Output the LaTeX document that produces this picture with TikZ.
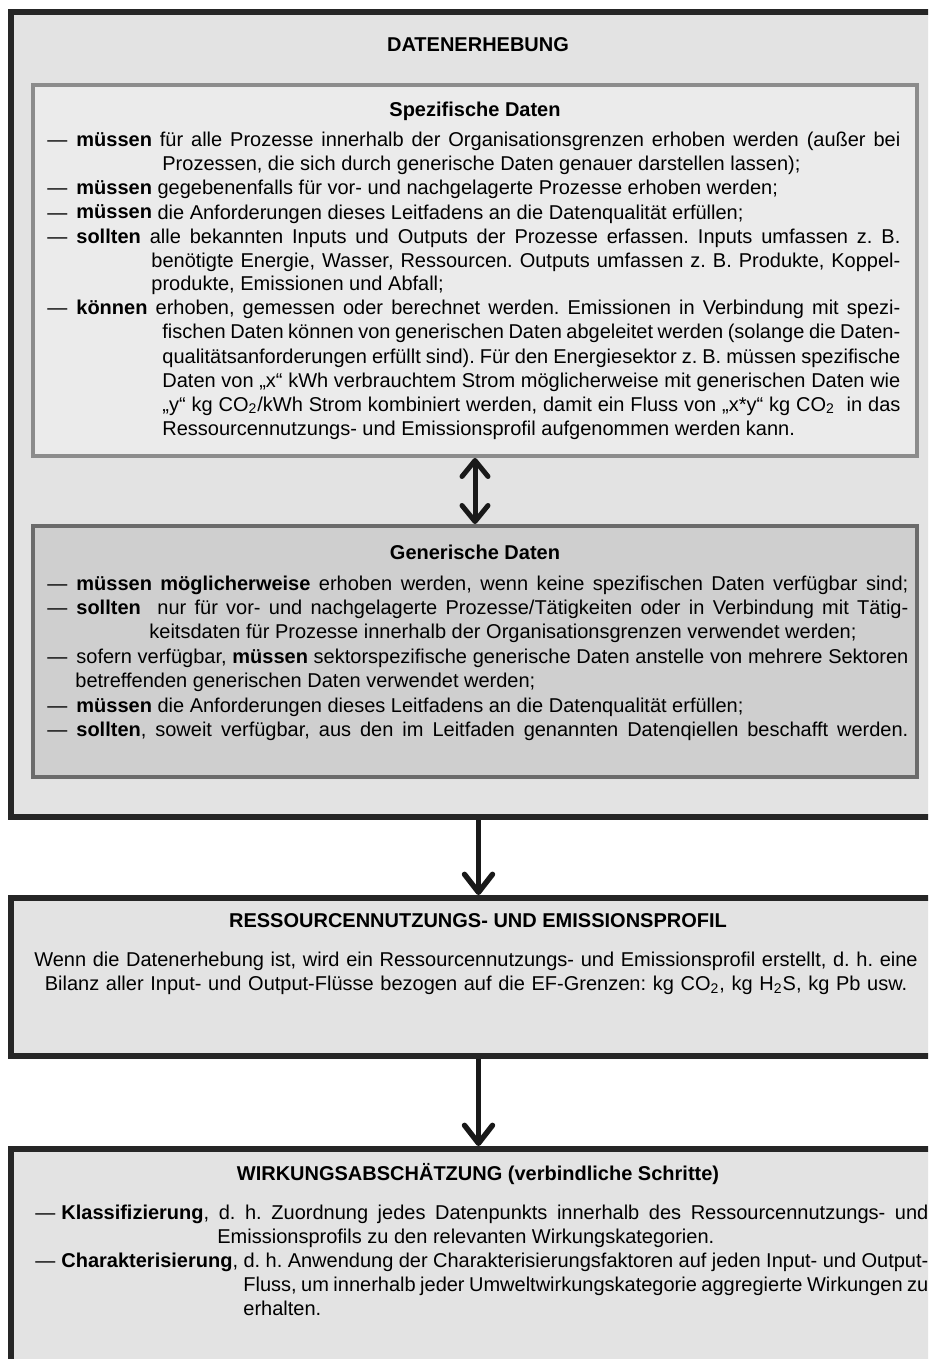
\documentclass[tikz,border=0pt]{standalone}
\usepackage{fontspec}
\setmainfont{Liberation Sans}
\usetikzlibrary{arrows.meta,fit,positioning}

\definecolor{rahmendunkel}{gray}{0.15}
\definecolor{fuellhell}{gray}{0.89}
\definecolor{spezfuell}{gray}{0.92}
\definecolor{spezrand}{gray}{0.55}
\definecolor{genfuell}{gray}{0.81}
\definecolor{genrand}{gray}{0.42}

\hyphenpenalty=10000
\tolerance=9999
\frenchspacing

% Spiegelstrich mit haengendem Einzug
\newcommand{\strich}[3][14.5pt]{\hangindent=#2\hangafter=1\noindent\makebox[#1][l]{—}#3\par}

\tikzset{
  rahmen/.style={draw=rahmendunkel, line width=3pt, fill=fuellhell, inner sep=0pt},
  spezbox/.style={draw=spezrand, line width=2pt, fill=spezfuell, inner sep=0pt},
  genbox/.style={draw=genrand, line width=2pt, fill=genfuell, inner sep=0pt},
  titel/.style={font=\fontsize{10}{12}\selectfont\bfseries, inner sep=0pt, anchor=base},
  fliess/.style={font=\fontsize{10}{12}\selectfont, inner sep=0pt, anchor=base west, align=justify},
  pfeil/.style={line width=2.7pt, black!90, -{Straight Barb[length=9pt,width=14pt,round]}},
  doppelpfeil/.style={line width=2.5pt, black!90, {Straight Barb[length=8pt,width=13pt,round]}-{Straight Barb[length=8pt,width=13pt,round]}},
}

\begin{document}
\begin{tikzpicture}[x=0.5pt, y=-0.5pt]
    % 1. Bildausschnitt
    \useasboundingbox (0,0) rectangle (928,1359);
    \clip (0,0) rectangle (928,1359);

    % 2. Kaesten
    \coordinate (e1) at (11,12);   \coordinate (e2) at (946,817);
    \node[rahmen, fit=(e1)(e2)] (erhebung) {};
    \coordinate (s1) at (33,85);   \coordinate (s2) at (917,456);
    \node[spezbox, fit=(s1)(s2)] (spez) {};
    \coordinate (g1) at (33,526);  \coordinate (g2) at (917,777);
    \node[genbox, fit=(g1)(g2)] (gen) {};
    \coordinate (p1) at (11,898);  \coordinate (p2) at (946,1056);
    \node[rahmen, fit=(p1)(p2)] (profil) {};
    \coordinate (w1) at (11,1149); \coordinate (w2) at (946,1390);
    \node[rahmen, fit=(w1)(w2)] (wirkung) {};

    % 3. Pfeile
    \draw[doppelpfeil] (spez.south) -- (gen.north);
    \draw[pfeil] (erhebung.south) -- (profil.north);
    \draw[pfeil] (profil.south) -- (wirkung.north);

    % 4. Datenerhebung
    \node[titel] (tErhebung) at (478,52) {DATENERHEBUNG};
    \node[titel] (tSpez) at (475,117) {Spezifische Daten};
    \node[fliess, text width=426.5pt] (spezText) at (47,147) {%
      \strich{57.5pt}{\textbf{müssen} für alle Prozesse innerhalb der Organisationsgrenzen erhoben werden (außer bei\linebreak Prozessen, die sich durch generische Daten genauer darstellen lassen);}
      \strich{57.5pt}{\textbf{müssen} gegebenenfalls für vor- und nachgelagerte Prozesse erhoben werden;}
      \strich{57.5pt}{\textbf{müssen} die Anforderungen dieses Leitfadens an die Datenqualität erfüllen;}
      \strich{52pt}{\textbf{sollten} alle bekannten Inputs und Outputs der Prozesse erfassen. Inputs umfassen z.~B.\linebreak benötigte Energie, Wasser, Ressourcen. Outputs umfassen z.~B. Produkte, Koppel-\linebreak produkte, Emissionen und Abfall;}
      \strich{57.5pt}{\textbf{können} erhoben, gemessen oder berechnet werden. Emissionen in Verbindung mit spezi-\linebreak fischen Daten können von generischen Daten abgeleitet werden (solange die Daten-\linebreak qualitätsanforderungen erfüllt sind). Für den Energiesektor z.~B. müssen spezifische\linebreak Daten von „x“ kWh verbrauchtem Strom möglicherweise mit generischen Daten wie\linebreak „y“ kg CO\textsubscript{2}/kWh Strom kombiniert werden, damit ein Fluss von „x*y“ kg CO\textsubscript{2}~ in das\linebreak Ressourcennutzungs- und Emissionsprofil aufgenommen werden kann.}};

    \node[titel] (tGen) at (475,559) {Generische Daten};
    \node[fliess, text width=430.5pt, font=\fontsize{10}{12.2}\selectfont] (genText) at (47,590) {%
      {\parfillskip=0pt \strich{57.5pt}{\textbf{müssen möglicherweise} erhoben werden, wenn keine spezifischen Daten verfügbar sind;}}
      \strich{51pt}{\textbf{sollten}\ \ nur für vor- und nachgelagerte Prozesse/Tätigkeiten oder in Verbindung mit Tätig-\linebreak keitsdaten für Prozesse innerhalb der Organisationsgrenzen verwendet werden;}
      \strich{14pt}{sofern verfügbar, \textbf{müssen} sektorspezifische generische Daten anstelle von mehrere Sektoren\linebreak betreffenden generischen Daten verwendet werden;}
      \strich{57.5pt}{\textbf{müssen} die Anforderungen dieses Leitfadens an die Datenqualität erfüllen;}
      {\parfillskip=0pt \strich{57.5pt}{\textbf{sollten}, soweit verfügbar, aus den im Leitfaden genannten Datenqiellen beschafft werden.}}};

    % 5. Ressourcennutzungs- und Emissionsprofil
    \node[titel] (tProfil) at (478,927) {RESSOURCENNUTZUNGS- UND EMISSIONSPROFIL};
    \node[fliess, anchor=base, align=center, text width=445pt] (profilText) at (476,966) {%
      Wenn die Datenerhebung ist, wird ein Ressourcennutzungs- und Emissionsprofil erstellt, d.~h. eine\\
      Bilanz aller Input- und Output-Flüsse bezogen auf die EF-Grenzen: kg CO\textsubscript{2}, kg H\textsubscript{2}S, kg Pb usw.};

    % 6. Wirkungsabschaetzung
    \node[titel] (tWirkung) at (478,1180) {WIRKUNGSABSCHÄTZUNG (verbindliche Schritte)};
    \node[fliess, text width=446.5pt] (wirkungText) at (35,1219) {%
      \strich[13pt]{91pt}{\textbf{Klassifizierung}, d.~h. Zuordnung jedes Datenpunkts innerhalb des Ressourcennutzungs- und\linebreak Emissionsprofils zu den relevanten Wirkungskategorien.}
      \strich[13pt]{104pt}{\textbf{Charakterisierung}, d.~h. Anwendung der Charakterisierungsfaktoren auf jeden Input- und Output-\linebreak Fluss, um innerhalb jeder Umweltwirkungskategorie aggregierte Wirkungen zu\linebreak erhalten.}};
\end{tikzpicture}
\end{document}
